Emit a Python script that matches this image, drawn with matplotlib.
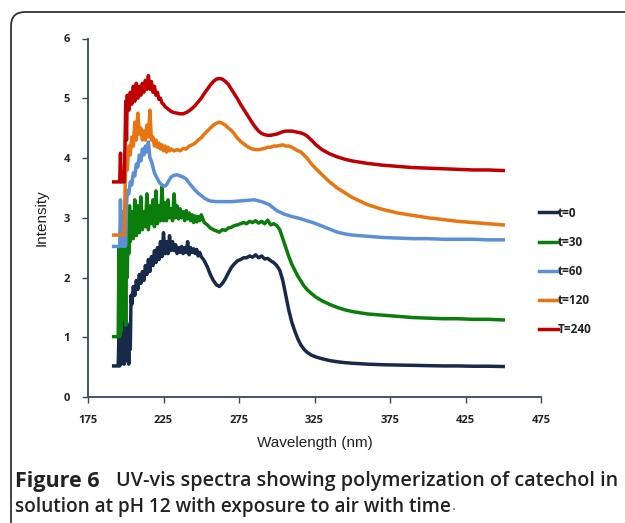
import matplotlib
matplotlib.use('Agg')
import matplotlib.pyplot as plt
from matplotlib.patches import PathPatch
from matplotlib.path import Path
from matplotlib.transforms import IdentityTransform

# ---- data ----
WL_T0 = [192, 195, 195.5, 196, 196.5, 197, 197.5, 198, 198.5, 199, 199.5, 200, 200.5, 201, 201.5,
         202, 202.5, 203, 203.5, 204, 205, 206, 207, 208, 209, 210, 211, 212, 213, 214, 215, 216,
         217, 218, 219, 220, 221, 222, 223, 224, 225, 226, 227, 228, 229, 230, 231, 232, 233, 234,
         235, 236, 237, 238, 239, 240, 241, 242, 243, 244, 245, 246, 247, 248, 249, 250, 252, 254,
         256, 258, 260, 262, 264, 266, 268, 270, 272, 274, 276, 278, 280, 282, 284, 286, 288, 290,
         292, 294, 296, 298, 300, 302, 304, 306, 308, 310, 312, 314, 316, 318, 320, 323, 326, 330,
         335, 340, 345, 350, 360, 370, 380, 390, 400, 410, 420, 430, 440, 450]
T0 = [0.52, 0.52, 1.05, 0.52, 1.2, 0.55, 1.0, 0.6, 1.3, 0.55, 1.1, 0.6, 1.25, 0.7, 1.0,
      0.55, 1.2, 0.8, 1.7, 1.55, 1.85, 1.7, 1.95, 1.8, 2.05, 1.9, 2.1, 1.95, 2.2, 2.05, 2.3, 2.1,
      2.35, 2.2, 2.45, 2.25, 2.5, 2.3, 2.6, 2.35, 2.75, 2.4, 2.6, 2.4, 2.7, 2.45, 2.6, 2.45, 2.55, 2.4,
      2.5, 2.42, 2.52, 2.4, 2.5, 2.42, 2.6, 2.38, 2.5, 2.42, 2.48, 2.4, 2.47, 2.36, 2.42, 2.35, 2.28, 2.18,
      2.05, 1.95, 1.88, 1.85, 1.9, 1.98, 2.08, 2.17, 2.23, 2.28, 2.3, 2.33, 2.33, 2.36, 2.34, 2.38, 2.33, 2.36,
      2.31, 2.32, 2.28, 2.25, 2.2, 2.12, 1.95, 1.7, 1.45, 1.25, 1.1, 0.97, 0.87, 0.8, 0.75, 0.7, 0.67, 0.64,
      0.61, 0.59, 0.575, 0.565, 0.55, 0.54, 0.535, 0.53, 0.525, 0.52, 0.52, 0.515, 0.515, 0.51]

WL_T30 = [192, 195, 195.5, 196, 196.5, 197, 197.5, 198, 198.5, 199, 199.5, 200, 200.5, 201, 201.5,
          202, 202.5, 203, 204, 205, 206, 207, 208, 209, 210, 211, 212, 213, 214, 215, 216, 217, 218,
          219, 220, 221, 222, 223, 224, 225, 226, 227, 228, 229, 230, 231, 232, 233, 234, 235, 236,
          237, 238, 239, 240, 241, 242, 243, 244, 245, 246, 247, 248, 249, 250, 252, 254, 256, 258,
          260, 262, 264, 266, 268, 270, 272, 274, 276, 278, 280, 282, 284, 286, 288, 290, 292, 294,
          296, 298, 300, 302, 304, 306, 308, 310, 312, 314, 316, 318, 320, 323, 326, 330, 335, 340,
          345, 350, 360, 370, 380, 390, 400, 410, 420, 430, 440, 450]
T30 = [1.01, 1.01, 2.5, 1.01, 2.3, 1.1, 2.6, 1.3, 2.4, 1.5, 2.7, 1.2, 2.9, 2.0, 3.0,
       2.4, 3.2, 2.6, 3.1, 2.65, 3.3, 2.7, 3.2, 2.75, 3.35, 2.8, 3.1, 2.85, 3.4, 2.8, 3.2, 2.9, 3.3,
       2.85, 3.45, 2.9, 3.2, 2.95, 3.52, 2.95, 3.25, 2.95, 3.3, 3.0, 3.15, 2.95, 3.4, 3.0, 3.2, 2.98, 3.15,
       3.0, 3.1, 2.95, 3.12, 2.98, 3.08, 2.95, 3.05, 2.92, 3.03, 2.93, 3.02, 2.95, 3.05, 2.92, 2.88, 2.83, 2.8,
       2.78, 2.76, 2.8, 2.79, 2.83, 2.84, 2.87, 2.88, 2.9, 2.92, 2.9, 2.94, 2.92, 2.95, 2.91, 2.94, 2.9, 2.96,
       2.88, 2.9, 2.87, 2.8, 2.65, 2.5, 2.35, 2.22, 2.12, 2.02, 1.94, 1.86, 1.8, 1.73, 1.67, 1.61, 1.55, 1.5,
       1.46, 1.43, 1.39, 1.37, 1.35, 1.33, 1.32, 1.31, 1.31, 1.3, 1.3, 1.29]

WL_T60 = [192, 196, 196.5, 197, 197.5, 198, 198.5, 199, 199.5, 200, 200.5, 201, 202, 203, 204, 205,
          206, 207, 208, 209, 210, 211, 212, 213, 214, 215, 216, 217, 218, 219, 220, 221, 222, 223,
          224, 225, 226, 227, 228, 229, 230, 232, 234, 236, 238, 240, 242, 244, 246, 248, 250, 252,
          254, 256, 260, 265, 270, 275, 280, 285, 290, 295, 300, 305, 310, 315, 320, 325, 330, 335,
          340, 345, 350, 360, 370, 380, 390, 400, 410, 420, 430, 440, 450]
T60 = [2.52, 2.52, 3.3, 2.55, 3.1, 2.52, 2.9, 2.55, 2.52, 2.55, 3.2, 3.45, 3.4, 3.6, 3.55, 3.75,
       3.7, 3.9, 3.85, 4.05, 3.95, 4.15, 4.05, 4.2, 4.1, 4.27, 4.0, 3.95, 3.85, 3.75, 3.7, 3.65, 3.6, 3.57,
       3.55, 3.53, 3.53, 3.55, 3.6, 3.64, 3.68, 3.71, 3.72, 3.7, 3.68, 3.65, 3.58, 3.52, 3.46, 3.41, 3.37, 3.33,
       3.3, 3.28, 3.27, 3.27, 3.27, 3.28, 3.29, 3.3, 3.27, 3.22, 3.12, 3.06, 3.02, 2.99, 2.95, 2.91, 2.86, 2.81,
       2.76, 2.73, 2.71, 2.69, 2.67, 2.66, 2.65, 2.65, 2.64, 2.64, 2.64, 2.63, 2.63]

WL_T120 = [192, 199, 199.5, 200, 201, 202, 203, 204, 205, 206, 207, 208, 209, 210, 211, 212, 213,
           214, 215, 216, 217, 218, 219, 220, 221, 222, 223, 224, 225, 226, 227, 228, 229, 230, 232,
           234, 236, 238, 240, 242, 244, 246, 248, 250, 252, 254, 256, 258, 260, 262, 264, 266, 268,
           270, 272, 274, 276, 278, 280, 282, 284, 286, 288, 290, 292, 294, 296, 298, 300, 302, 304,
           306, 308, 310, 312, 314, 316, 318, 320, 323, 326, 330, 335, 340, 345, 350, 355, 360, 370,
           380, 390, 400, 410, 420, 430, 440, 450]
T120 = [2.71, 2.71, 3.4, 3.9, 3.8, 4.2, 4.05, 4.35, 4.2, 4.6, 4.3, 4.75, 4.4, 4.5, 4.3, 4.45, 4.3,
        4.55, 4.35, 4.8, 4.3, 4.35, 4.2, 4.3, 4.18, 4.25, 4.15, 4.22, 4.12, 4.2, 4.1, 4.18, 4.12, 4.15, 4.12,
        4.14, 4.12, 4.16, 4.15, 4.2, 4.22, 4.25, 4.3, 4.34, 4.4, 4.45, 4.5, 4.55, 4.58, 4.6, 4.58, 4.55, 4.5,
        4.46, 4.4, 4.33, 4.28, 4.24, 4.2, 4.17, 4.15, 4.14, 4.14, 4.15, 4.16, 4.18, 4.18, 4.2, 4.2, 4.21, 4.22,
        4.2, 4.2, 4.18, 4.15, 4.12, 4.1, 4.05, 4.0, 3.9, 3.82, 3.72, 3.6, 3.5, 3.42, 3.34, 3.28, 3.22, 3.14,
        3.08, 3.04, 3.0, 2.97, 2.94, 2.92, 2.9, 2.88]

WL_T240 = [192, 196, 196.5, 197, 199, 199.5, 200, 200.5, 201, 202, 203, 204, 205, 206, 207, 208, 209,
           210, 211, 212, 213, 214, 215, 216, 217, 218, 219, 220, 221, 222, 223, 224, 225, 226, 228,
           230, 232, 234, 236, 238, 240, 242, 244, 246, 248, 250, 252, 254, 256, 258, 260, 262, 264,
           266, 268, 270, 272, 274, 276, 278, 280, 282, 284, 286, 288, 290, 292, 294, 296, 298, 300,
           302, 304, 306, 308, 310, 312, 314, 316, 318, 320, 323, 326, 330, 335, 340, 345, 350, 360,
           370, 380, 390, 400, 410, 420, 430, 440, 450]
T240 = [3.6, 3.6, 4.08, 3.6, 3.6, 4.2, 4.95, 4.3, 5.05, 4.8, 5.1, 4.9, 5.2, 4.95, 5.25, 5.0, 5.2,
        5.05, 5.25, 5.1, 5.3, 5.15, 5.38, 5.15, 5.28, 5.1, 5.2, 5.05, 5.1, 4.98, 5.0, 4.92, 4.9, 4.86, 4.82,
        4.78, 4.76, 4.75, 4.74, 4.74, 4.76, 4.79, 4.83, 4.88, 4.94, 5.0, 5.08, 5.15, 5.22, 5.28, 5.32, 5.33, 5.32,
        5.28, 5.23, 5.15, 5.07, 4.99, 4.9, 4.82, 4.74, 4.66, 4.58, 4.51, 4.45, 4.41, 4.39, 4.38, 4.38, 4.39, 4.4,
        4.42, 4.44, 4.45, 4.45, 4.45, 4.44, 4.43, 4.42, 4.4, 4.37, 4.3, 4.22, 4.14, 4.07, 4.02, 3.98, 3.95, 3.91,
        3.88, 3.86, 3.84, 3.83, 3.82, 3.81, 3.8, 3.8, 3.79]

LABELS = ['t=0', 't=30', 't=60', 't=120', 'T=240']
COLORS = ['#172a4a', '#0a7d0a', '#5b8fd6', '#e8750f', '#c00000']
X_TICKS = [175, 225, 275, 325, 375, 425, 475]
Y_TICKS = [0, 1, 2, 3, 4, 5, 6]

AXIS_COLOR = '#34495e'
TXT = '#222222'

fig = plt.figure(figsize=(6.25, 5.23), dpi=100)

# panel frame: left edge, rounded top-left corner, top edge (pixels, origin bottom-left)
frame_path = Path([(11, -3), (11, 497), (11, 511), (25, 511), (628, 511)],
                  [Path.MOVETO, Path.LINETO, Path.CURVE3, Path.CURVE3, Path.LINETO])
fig.patches.append(PathPatch(frame_path, transform=IdentityTransform(), fill=False,
                             edgecolor='#333333', linewidth=1.3, clip_on=False))

ax = fig.add_axes((88 / 625, 1 - 397 / 523, 453 / 625, 358.5 / 523))

series = [(WL_T0, T0), (WL_T30, T30), (WL_T60, T60), (WL_T120, T120), (WL_T240, T240)]
for (wl, y), lab, c in zip(series, LABELS, COLORS):
    ax.plot(wl, y, color=c, lw=2.5, label=lab, solid_joinstyle='round')

ax.set_xlim(175, 475)
ax.set_ylim(0, 6)
ax.set_xticks(X_TICKS)
ax.set_yticks(Y_TICKS)
for s in ['top', 'right']:
    ax.spines[s].set_visible(False)
for s in ['left', 'bottom']:
    ax.spines[s].set_color(AXIS_COLOR)
    ax.spines[s].set_linewidth(1.3)
ax.tick_params(axis='both', colors=AXIS_COLOR, length=4, width=1.0, direction='out')
ax.tick_params(axis='x', pad=9)
ax.tick_params(axis='y', pad=9)
for lbl in ax.get_xticklabels() + ax.get_yticklabels():
    lbl.set_fontfamily('Open Sans')
    lbl.set_fontweight('bold')
    lbl.set_fontsize(8)
    lbl.set_color(TXT)

ax.set_xlabel('Wavelength (nm)', fontfamily='Liberation Sans', fontsize=11, color=TXT, labelpad=7)
ax.set_ylabel('Intensity', fontfamily='Liberation Sans', fontsize=11, color=TXT, labelpad=11)

leg = fig.legend(loc='upper left', bbox_to_anchor=(528 / 625, 1 - 196 / 523), frameon=False,
                 handlelength=1.6, handletextpad=0.05, labelspacing=1.36,
                 prop={'family': 'Open Sans', 'weight': 'bold', 'size': 8.5})
for t in leg.get_texts():
    t.set_color(TXT)

fig.text(15 / 625, 1 - 481 / 523, 'Figure 6', fontfamily='Open Sans', fontweight='bold',
         fontsize=15.5, color=TXT, va='center')
fig.text(116 / 625, 1 - 481 / 523, 'UV-vis spectra showing polymerization of catechol in',
         fontfamily='Open Sans', fontweight='semibold', fontsize=14.2, color=TXT, va='center')
line2 = fig.text(15 / 625, 1 - 507 / 523, 'solution at pH 12 with exposure to air with time',
                 fontfamily='Open Sans', fontweight='semibold', fontsize=13.7, color=TXT,
                 va='center')
bb = line2.get_window_extent(renderer=fig.canvas.get_renderer())
fig.text((bb.x1 + 1) / 625, 1 - 507 / 523, '.', fontfamily='Open Sans', fontsize=11,
         color='#555555', va='center')

fig.savefig('out.png', dpi=100)
